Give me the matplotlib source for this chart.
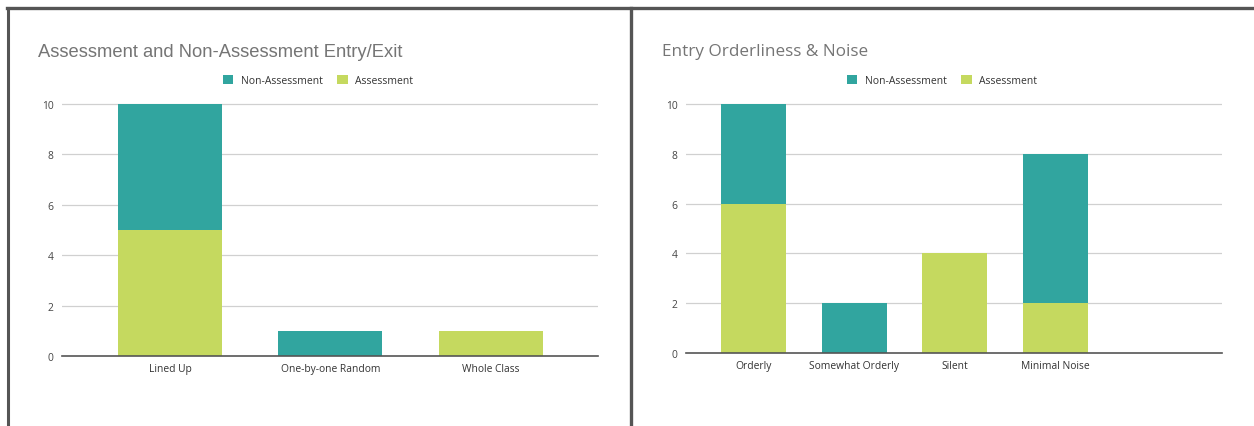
import matplotlib
matplotlib.use("Agg")
import matplotlib.pyplot as plt
from matplotlib.patches import Patch
from matplotlib.lines import Line2D

# ---- data ----
left_title = "Assessment and Non-Assessment Entry/Exit"
left_cats = ["Lined Up", "One-by-one Random", "Whole Class"]
left_assess = [5, 0, 1]
left_nonassess = [5, 1, 0]

right_title = "Entry Orderliness & Noise"
right_cats = ["Orderly", "Somewhat Orderly", "Silent", "Minimal Noise"]
right_assess = [6, 0, 4, 2]
right_nonassess = [4, 2, 0, 6]

series_names = ["Non-Assessment", "Assessment"]
yticks = [0, 2, 4, 6, 8, 10]

TEAL = "#31a59f"
LIME = "#c5d95f"
W, H = 1254, 427

fig = plt.figure(figsize=(W / 100, H / 100), dpi=100)
fig.patch.set_facecolor("white")


def fx(px):
    return px / W


def fy(py):
    return 1 - py / H


def panel(x0, x1, y_base, y_top10, cats, assess, nonassess, xlim, title, title_x, title_font, title_size, legend_cx):
    upp = (y_base - y_top10) / 10.0
    ytop = 10.25
    top_px = y_base - ytop * upp
    ax = fig.add_axes([fx(x0), fy(y_base), fx(x1) - fx(x0), (y_base - top_px) / H])
    xs = list(range(len(cats)))
    ax.bar(xs, assess, width=0.648, color=LIME, zorder=3)
    ax.bar(xs, nonassess, bottom=assess, width=0.648, color=TEAL, zorder=3)
    ax.set_xlim(*xlim)
    ax.set_ylim(0, ytop)
    ax.set_yticks(yticks)
    ax.set_yticklabels([str(v) for v in yticks], fontsize=7.4, color="#444444", family="Open Sans")
    ax.set_xticks(xs)
    ax.set_xticklabels(cats, fontsize=7.4, color="#333333", family="Open Sans")
    ax.tick_params(axis="both", length=0)
    ax.tick_params(axis="y", pad=6)
    ax.tick_params(axis="x", pad=5)
    for s in ["top", "right", "left"]:
        ax.spines[s].set_visible(False)
    ax.spines["bottom"].set_color("#555555")
    ax.spines["bottom"].set_linewidth(1.2)
    ax.spines["bottom"].set_zorder(4)
    for v in yticks[1:]:
        ax.axhline(v, color="#d0d0d0", linewidth=0.9, zorder=1)
    fig.text(fx(title_x), fy(52.5), title, fontsize=title_size, color="#757575",
             family=title_font, ha="left", va="center")
    handles = [Patch(facecolor=TEAL, edgecolor="none"), Patch(facecolor=LIME, edgecolor="none")]
    fig.legend(handles, series_names, loc="center", bbox_to_anchor=(fx(legend_cx), fy(81.5)),
               ncol=2, frameon=False, handlelength=1.0, handleheight=1.0, handletextpad=0.7,
               columnspacing=1.4, prop={"family": "Open Sans", "size": 7.5}, labelcolor="#333333")
    return ax


panel(62, 598, 357, 105, left_cats, left_assess, left_nonassess,
      (-0.673, 2.667), left_title, 38, "Liberation Sans", 13.2, 318)
panel(686, 1222, 354, 105, right_cats, right_assess, right_nonassess,
      (-0.672, 4.66), right_title, 662, "Open Sans", 12.3, 942)

# panel borders
border = "#555555"
fig.add_artist(Line2D([fx(7), 1], [fy(9), fy(9)], color=border, linewidth=2.4, transform=fig.transFigure))
fig.add_artist(Line2D([fx(8), fx(8)], [fy(9), 0], color=border, linewidth=2.2, transform=fig.transFigure))
fig.add_artist(Line2D([fx(631), fx(631)], [fy(9), 0], color=border, linewidth=2.4, transform=fig.transFigure))

fig.savefig("out.png", dpi=100, facecolor="white")
